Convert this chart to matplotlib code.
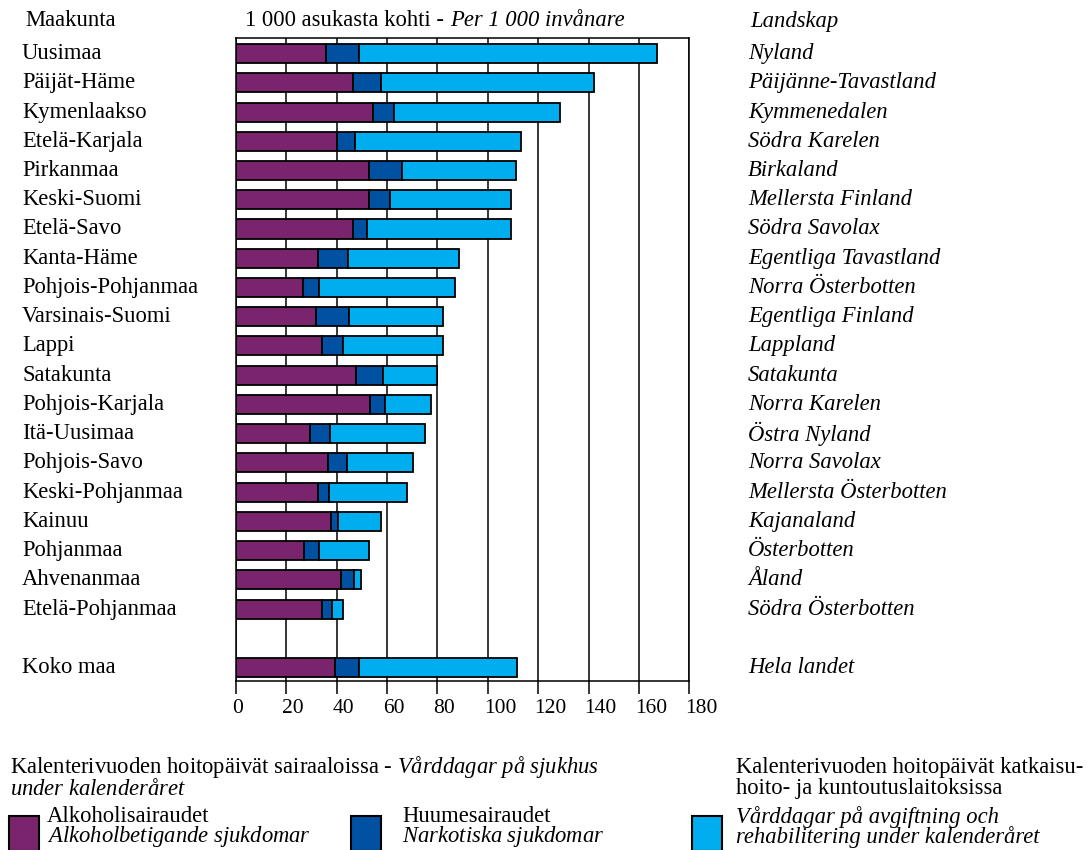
import matplotlib
matplotlib.use('Agg')
import matplotlib.pyplot as plt
import matplotlib.transforms as mtransforms
import numpy as np

plt.rcParams['font.family'] = ['Liberation Serif', 'DejaVu Serif']
plt.rcParams['mathtext.fontset'] = 'custom'
plt.rcParams['mathtext.rm'] = 'Liberation Serif'
plt.rcParams['mathtext.it'] = 'Liberation Serif:italic'

regions_fi = ['Uusimaa', 'Päijät-Häme', 'Kymenlaakso', 'Etelä-Karjala', 'Pirkanmaa',
              'Keski-Suomi', 'Etelä-Savo', 'Kanta-Häme', 'Pohjois-Pohjanmaa',
              'Varsinais-Suomi', 'Lappi', 'Satakunta', 'Pohjois-Karjala', 'Itä-Uusimaa',
              'Pohjois-Savo', 'Keski-Pohjanmaa', 'Kainuu', 'Pohjanmaa', 'Ahvenanmaa',
              'Etelä-Pohjanmaa', 'Koko maa']
regions_sv = ['Nyland', 'Päijänne-Tavastland', 'Kymmenedalen', 'Södra Karelen', 'Birkaland',
              'Mellersta Finland', 'Södra Savolax', 'Egentliga Tavastland', 'Norra Österbotten',
              'Egentliga Finland', 'Lappland', 'Satakunta', 'Norra Karelen', 'Östra Nyland',
              'Norra Savolax', 'Mellersta Österbotten', 'Kajanaland', 'Österbotten', 'Åland',
              'Södra Österbotten', 'Hela landet']

# segment values per 1 000 inhabitants
alcohol = [35.6, 46.6, 54.4, 40.0, 52.9, 52.7, 46.6, 32.5, 26.8, 31.7, 34.3, 47.7, 53.1,
           29.3, 36.7, 32.5, 37.6, 27.0, 41.5, 34.2, 39.3]
drugs = [13.4, 10.9, 8.5, 7.2, 13.1, 8.5, 5.5, 11.8, 6.3, 13.2, 8.0, 10.5, 5.9,
         8.1, 7.3, 4.3, 2.8, 6.0, 5.3, 3.8, 9.7]
rehab = [118.0, 84.5, 65.6, 65.9, 45.0, 48.1, 57.2, 44.2, 53.7, 37.2, 39.8, 21.8, 18.6,
         37.8, 26.1, 31.3, 17.2, 20.0, 3.0, 4.3, 62.5]

xticks = [0, 20, 40, 60, 80, 100, 120, 140, 160, 180]

c_alc = '#7b246e'
c_drug = '#0051a2'
c_reh = '#00aeef'

W, H = 1087, 850
fig = plt.figure(figsize=(W / 100, H / 100), dpi=100)
ax = fig.add_axes([236 / W, 1 - 680.7 / H, (689.3 - 236) / W, (680.7 - 37.5) / H])

ypos = np.arange(len(regions_fi), dtype=float)
ypos[-1] += 1  # blank row before the whole-country bar
alc = np.array(alcohol)
drg = np.array(drugs)
reh = np.array(rehab)

ax.set_axisbelow(True)
for t in xticks:
    ax.axvline(t, color='black', lw=1.1, zorder=0)
kw = dict(height=0.65, edgecolor='black', linewidth=1.3, zorder=3)
ax.barh(ypos, alc, color=c_alc, **kw)
ax.barh(ypos, drg, left=alc, color=c_drug, **kw)
ax.barh(ypos, reh, left=alc + drg, color=c_reh, **kw)

ax.set_xlim(0, 180)
ax.set_ylim(ypos[-1] + 0.45, -0.55)
ax.set_yticks([])
ax.set_xticks(xticks)
ax.set_xticklabels([str(t) for t in xticks], fontsize=15.5, ha='left')
ax.tick_params(axis='x', direction='out', length=9, width=1.1, pad=4)
off = mtransforms.ScaledTranslation(-4 / 100, 0, fig.dpi_scale_trans)
for lab in ax.get_xticklabels():
    lab.set_transform(lab.get_transform() + off)
for s in ax.spines.values():
    s.set_linewidth(1.1)

fs = 16.3
tr = mtransforms.blended_transform_factory(fig.transFigure, ax.transData)
for y, fi, sv in zip(ypos, regions_fi, regions_sv):
    ax.text(22 / W, y, fi, transform=tr, fontsize=fs, va='center', ha='left')
    ax.text(748 / W, y, sv, transform=tr, fontsize=fs, va='center', ha='left', style='italic')


def fx(x):
    return x / W


def fy(y):
    return 1 - y / H


renderer = fig.canvas.get_renderer()


def mixed(x, y, parts):
    # draw consecutive text pieces, normal/italic, on one baseline
    for txt, st in parts:
        t = fig.text(fx(x), fy(y), txt, fontsize=fs, style=st, va='baseline', ha='left')
        bb = t.get_window_extent(renderer=renderer)
        x = bb.x1


fig.text(fx(25), fy(26.5), 'Maakunta', fontsize=fs, va='baseline')
mixed(245, 26.5, [('1 000 asukasta kohti - ', 'normal'), ('Per 1 000 invånare', 'italic')])
fig.text(fx(750), fy(26.5), 'Landskap', fontsize=fs, style='italic', va='baseline')

# legend block
fig.text(fx(10), fy(754), 'Kalenterivuoden hoitopäivät sairaaloissa - '
         r'$\mathit{Vårddagar\ på\ sjukhus}$' '\n' r'$\mathit{under\ kalenderåret}$',
         fontsize=fs, va='top', linespacing=0.95)
fig.text(fx(736), fy(757), 'Kalenterivuoden hoitopäivät katkaisu-\nhoito- ja kuntoutuslaitoksissa',
         fontsize=fs, va='top', linespacing=0.97)

items = [(9, 47, c_alc, 'Alkoholisairaudet\n' + r'$\mathit{Alkoholbetigande\ sjukdomar}$', 'normal', 0.82),
         (351, 402, c_drug, 'Huumesairaudet\n' + r'$\mathit{Narkotiska\ sjukdomar}$', 'normal', 0.82),
         (692, 736, c_reh, 'Vårddagar på avgiftning och\nrehabilitering under kalenderåret', 'italic', 0.9)]
for x0, xt, col, lab, st, ls in items:
    fig.patches.append(plt.Rectangle((fx(x0), fy(851)), 30 / W, 35 / H, transform=fig.transFigure,
                                     facecolor=col, edgecolor='black', lw=1.5))
    fig.text(fx(xt), fy(806), lab, fontsize=fs, style=st, va='top', linespacing=ls)

fig.savefig('out.png', dpi=100)
